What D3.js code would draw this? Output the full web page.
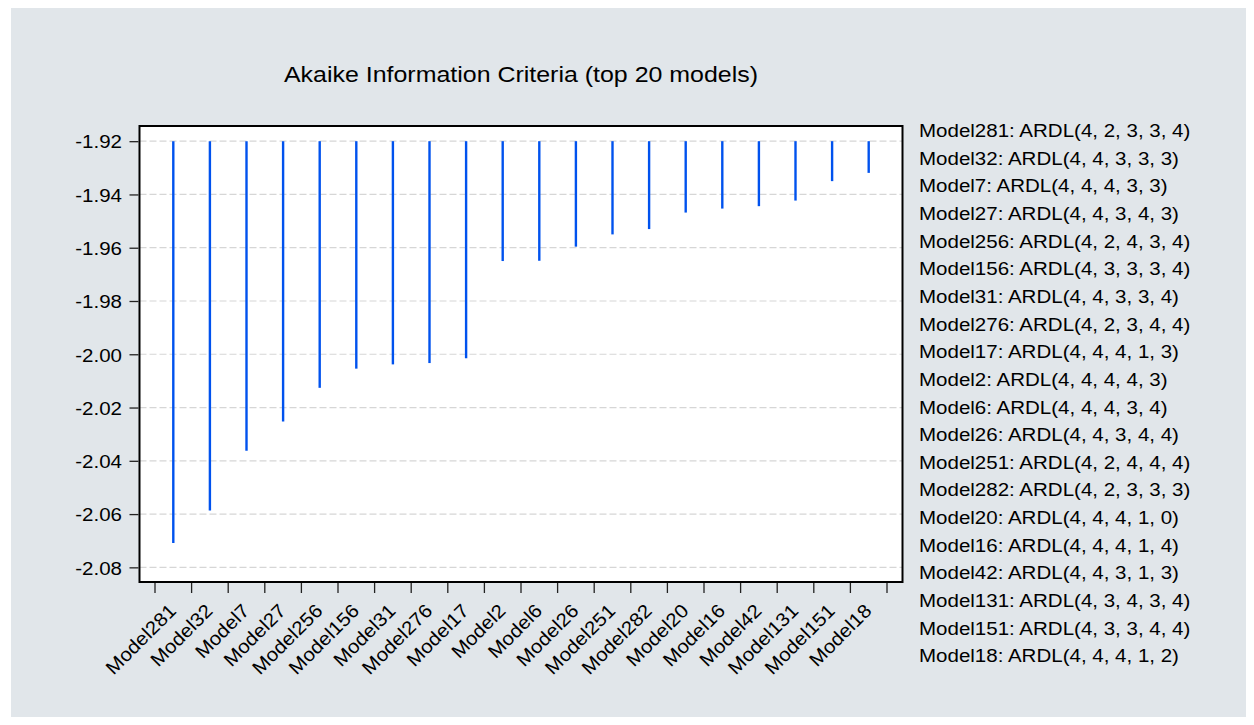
<!DOCTYPE html>
<html>
<head>
<meta charset="utf-8">
<script src="https://cdn.jsdelivr.net/npm/d3@7/dist/d3.min.js"></script>
<style>
  html, body { margin: 0; padding: 0; background: #ffffff; }
  svg { display: block; }
  text { font-family: "Liberation Sans", Arial, sans-serif; fill: #000; }
</style>
</head>
<body>
<svg id="chart" width="1254" height="725"></svg>
<script>
// ---- data ----
const models = ["Model281","Model32","Model7","Model27","Model256","Model156","Model31","Model276","Model17","Model2",
                "Model6","Model26","Model251","Model282","Model20","Model16","Model42","Model131","Model151","Model18"];
const aicValues = [-2.0709, -2.0587, -2.0362, -2.0252, -2.0126, -2.0054, -2.0038, -2.0033, -2.0015, -1.9650,
                   -1.9649, -1.9596, -1.9550, -1.9530, -1.9468, -1.9453, -1.9444, -1.9423, -1.9350, -1.9319];
const specs = ["ARDL(4, 2, 3, 3, 4)","ARDL(4, 4, 3, 3, 3)","ARDL(4, 4, 4, 3, 3)","ARDL(4, 4, 3, 4, 3)","ARDL(4, 2, 4, 3, 4)",
               "ARDL(4, 3, 3, 3, 4)","ARDL(4, 4, 3, 3, 4)","ARDL(4, 2, 3, 4, 4)","ARDL(4, 4, 4, 1, 3)","ARDL(4, 4, 4, 4, 3)",
               "ARDL(4, 4, 4, 3, 4)","ARDL(4, 4, 3, 4, 4)","ARDL(4, 2, 4, 4, 4)","ARDL(4, 2, 3, 3, 3)","ARDL(4, 4, 4, 1, 0)",
               "ARDL(4, 4, 4, 1, 4)","ARDL(4, 4, 3, 1, 3)","ARDL(4, 3, 4, 3, 4)","ARDL(4, 3, 3, 4, 4)","ARDL(4, 4, 4, 1, 2)"];
const yTickValues = [-1.92, -1.94, -1.96, -1.98, -2.00, -2.02, -2.04, -2.06, -2.08];
const yTickLabels = ["-1.92","-1.94","-1.96","-1.98","-2.00","-2.02","-2.04","-2.06","-2.08"];
const baseline = -1.92;
const title = "Akaike Information Criteria (top 20 models)";

// ---- layout ----
const svg = d3.select("#chart");
const plot = { left: 139.5, right: 902.5, top: 126, bottom: 582 };
const SX = 1.08; // horizontal stretch of the original font

svg.append("rect").attr("x", 11).attr("y", 8).attr("width", 1235).attr("height", 709)
   .attr("fill", "#e1e6ea");

const y = d3.scaleLinear().domain([-2.0855, -1.9143]).range([plot.bottom, plot.top]);
const x = d3.scaleBand().domain(models).range([155, 887]).padding(0);

// plot background
svg.append("rect").attr("x", plot.left).attr("y", plot.top)
   .attr("width", plot.right - plot.left).attr("height", plot.bottom - plot.top)
   .attr("fill", "#ffffff");

// gridlines
svg.append("g").selectAll("line").data(yTickValues).join("line")
   .attr("x1", plot.left).attr("x2", plot.right)
   .attr("y1", d => y(d)).attr("y2", d => y(d))
   .attr("stroke", "#d6d6d6").attr("stroke-width", 1.2).attr("stroke-dasharray", "7,3");

// bars (spikes)
svg.append("g").selectAll("line").data(models).join("line")
   .attr("x1", d => x(d) + x.bandwidth() / 2).attr("x2", d => x(d) + x.bandwidth() / 2)
   .attr("y1", y(baseline))
   .attr("y2", (d, i) => y(aicValues[i]))
   .attr("stroke", "#0052ee").attr("stroke-width", 2.4);

// frame
svg.append("rect").attr("x", plot.left).attr("y", plot.top)
   .attr("width", plot.right - plot.left).attr("height", plot.bottom - plot.top)
   .attr("fill", "none").attr("stroke", "#000").attr("stroke-width", 2);

// y axis
const yAxis = d3.axisLeft(y).tickValues(yTickValues).tickSize(9).tickPadding(0)
   .tickFormat((d, i) => yTickLabels[i]);
const gy = svg.append("g").attr("transform", `translate(${plot.left - 1},0)`).call(yAxis);
gy.select(".domain").remove();
gy.selectAll(".tick line").attr("stroke", "#222").attr("stroke-width", 1.3);
gy.selectAll(".tick text")
   .attr("x", null).attr("dy", null)
   .attr("font-size", 19).attr("font-family", "Liberation Sans, Arial, sans-serif")
   .attr("fill", "#000")
   .attr("text-anchor", "end")
   .attr("transform", `translate(-16.5,6.8) scale(${SX},1)`);

// x ticks at band boundaries
const edges = models.map(m => x(m)).concat([x(models[models.length - 1]) + x.bandwidth()]);
svg.append("g").selectAll("line").data(edges).join("line")
   .attr("x1", d => d).attr("x2", d => d)
   .attr("y1", plot.bottom + 1).attr("y2", plot.bottom + 11)
   .attr("stroke", "#222").attr("stroke-width", 1.3);

// x labels
svg.append("g").selectAll("text").data(models).join("text")
   .attr("transform", d => `translate(${x(d) + x.bandwidth() / 2 + 4},612) rotate(-45) scale(${SX},1)`)
   .attr("text-anchor", "end")
   .attr("font-size", 19)
   .text(d => d);

// title
svg.append("text")
   .attr("transform", `translate(${(plot.left + plot.right) / 2},82) scale(1.085,1)`)
   .attr("text-anchor", "middle").attr("font-size", 23)
   .text(title);

// legend (model specifications)
svg.append("g").selectAll("text").data(models).join("text")
   .attr("transform", (d, i) => `translate(919,${137 + i * 27.65}) scale(${SX},1)`)
   .attr("font-size", 19)
   .text((d, i) => `${d}: ${specs[i]}`);
</script>
</body>
</html>
